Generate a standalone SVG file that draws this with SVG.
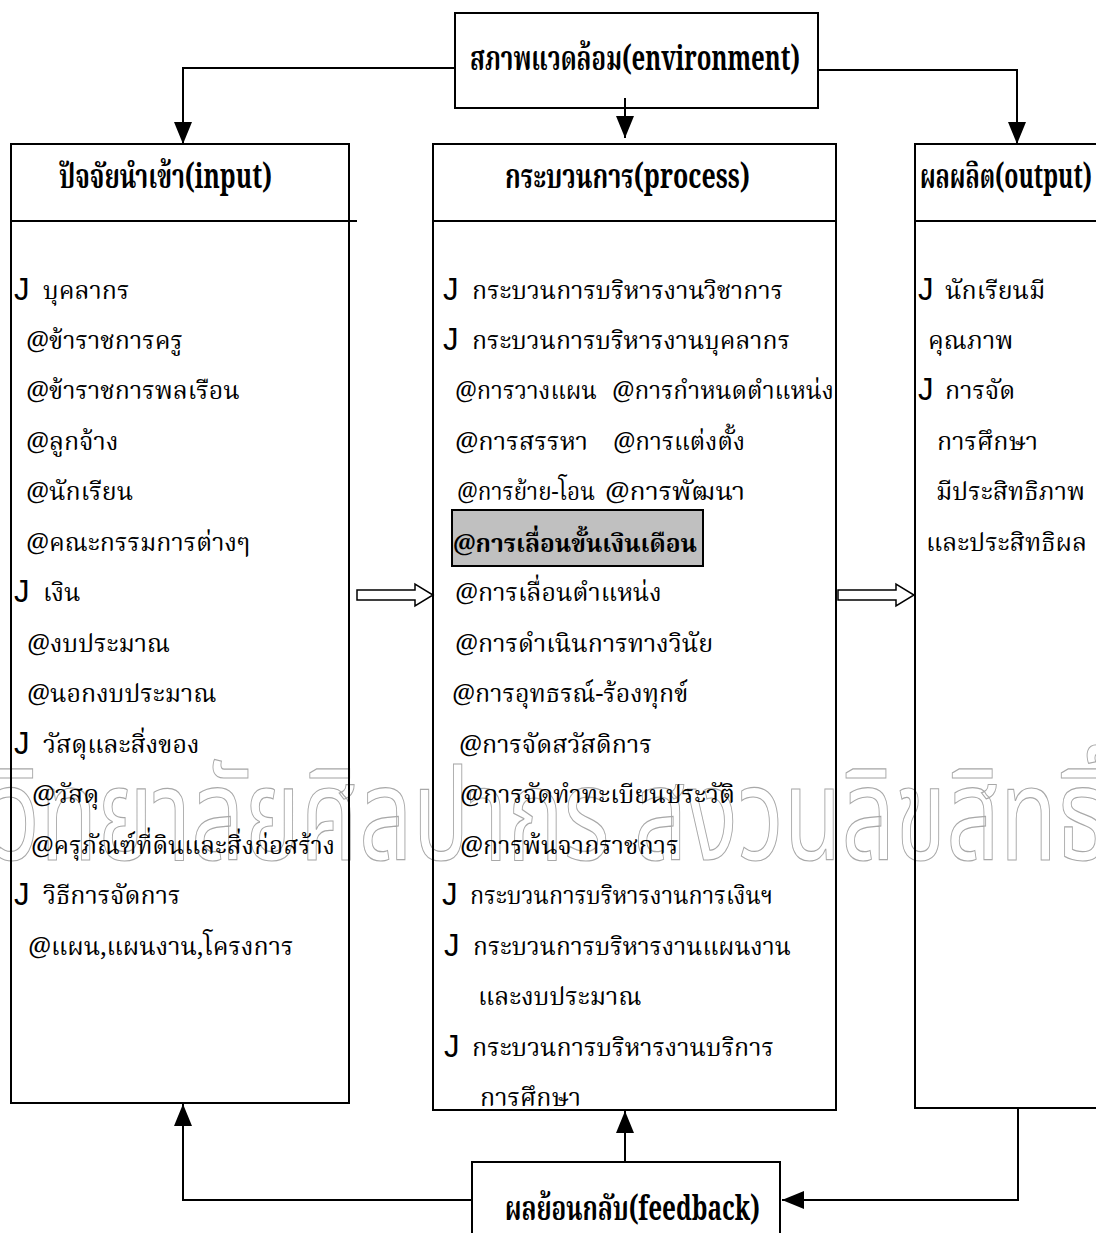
<svg xmlns="http://www.w3.org/2000/svg" width="1096" height="1233" viewBox="0 0 1096 1233">
<style>
.box{fill:none;stroke:#000;stroke-width:2}
.ln{fill:none;stroke:#000;stroke-width:2}
.t{font-family:"Noto Serif Thai","Norasi","Tlwg Typo","Liberation Serif",serif;font-size:25px;fill:#000}
.h{font-family:"Noto Serif Thai","Norasi","Liberation Serif",serif;font-size:34px;font-weight:bold;fill:#000}
.b{font-family:"Liberation Sans",sans-serif;font-size:31px;fill:#000}
.wm{font-family:"Noto Sans Thai","Noto Serif Thai","Liberation Sans",sans-serif;font-size:128px;fill:none;stroke:#a8a8a8;stroke-width:1.2}
.blk{fill:#fff;stroke:#000;stroke-width:1.5}
</style>
<defs>
<marker id="ah" viewBox="0 0 22 18" refX="22" refY="9" markerWidth="22" markerHeight="18" markerUnits="userSpaceOnUse" orient="auto">
<path d="M0,0 L22,9 L0,18 Z" fill="#000"/>
</marker>
</defs>
<rect x="0" y="0" width="1096" height="1233" fill="#fff"/>

<g id="watermark">
<text class="wm" x="-6" y="860" textLength="1114" lengthAdjust="spacingAndGlyphs">วิทยาลัยศิลปากร สงวนลิขสิทธิ์</text>
</g>

<g id="connectors">
<path class="ln" d="M455,68 H183 V144" marker-end="url(#ah)"/>
<path class="ln" d="M818,70 H1017 V144" marker-end="url(#ah)"/>
<path class="ln" d="M625,98 V138" marker-end="url(#ah)"/>
<path class="ln" d="M1018,1108 V1200 H782" marker-end="url(#ah)"/>
<path class="ln" d="M472,1200 H183 V1104" marker-end="url(#ah)"/>
<path class="ln" d="M625,1162 V1111" marker-end="url(#ah)"/>
<path class="blk" d="M357,590 H415 V584 L433,595 L415,606 V600 H357 Z"/>
<path class="blk" d="M838,590 H896 V584 L914,595 L896,606 V600 H838 Z"/>
</g>

<g id="environment">
<rect class="box" x="455" y="13" width="363" height="95"/>
<text class="h" x="470" y="70" textLength="330" lengthAdjust="spacingAndGlyphs">สภาพแวดล้อม(environment)</text>
</g>

<g id="input">
<rect class="box" x="11" y="144" width="338" height="959"/>
<line class="ln" x1="11" y1="221" x2="357" y2="221"/>
<text class="h" x="59" y="188" textLength="213" lengthAdjust="spacingAndGlyphs">ปัจจัยนำเข้า(input)</text>
<text class="b" x="14" y="300">J</text><text class="t" x="43" y="299">บุคลากร</text>
<text class="t" x="26" y="349">@ข้าราชการครู</text>
<text class="t" x="26" y="399">@ข้าราชการพลเรือน</text>
<text class="t" x="26" y="450">@ลูกจ้าง</text>
<text class="t" x="26" y="500">@นักเรียน</text>
<text class="t" x="26" y="551">@คณะกรรมการต่างๆ</text>
<text class="b" x="14" y="602">J</text><text class="t" x="43" y="601">เงิน</text>
<text class="t" x="27" y="652">@งบประมาณ</text>
<text class="t" x="27" y="702">@นอกงบประมาณ</text>
<text class="b" x="14" y="754">J</text><text class="t" x="43" y="753">วัสดุและสิ่งของ</text>
<text class="t" x="32" y="803">@วัสดุ</text>
<text class="t" x="31" y="854" textLength="304" lengthAdjust="spacingAndGlyphs">@ครุภัณฑ์ที่ดินและสิ่งก่อสร้าง</text>
<text class="b" x="14" y="905">J</text><text class="t" x="43" y="904">วิธีการจัดการ</text>
<text class="t" x="28" y="955">@แผน,แผนงาน,โครงการ</text>
</g>

<g id="process">
<rect class="box" x="433" y="144" width="403" height="966"/>
<line class="ln" x1="433" y1="221" x2="836" y2="221"/>
<text class="h" x="505" y="188" textLength="245" lengthAdjust="spacingAndGlyphs">กระบวนการ(process)</text>
<text class="b" x="443" y="300">J</text><text class="t" x="472" y="299" textLength="311" lengthAdjust="spacingAndGlyphs">กระบวนการบริหารงานวิชาการ</text>
<text class="b" x="443" y="350">J</text><text class="t" x="472" y="349" textLength="318" lengthAdjust="spacingAndGlyphs">กระบวนการบริหารงานบุคลากร</text>
<text class="t" x="455" y="399" textLength="142" lengthAdjust="spacingAndGlyphs">@การวางแผน</text><text class="t" x="612" y="399" textLength="222" lengthAdjust="spacingAndGlyphs">@การกำหนดตำแหน่ง</text>
<text class="t" x="455" y="450" textLength="133" lengthAdjust="spacingAndGlyphs">@การสรรหา</text><text class="t" x="613" y="450" textLength="132" lengthAdjust="spacingAndGlyphs">@การแต่งตั้ง</text>
<text class="t" x="457" y="500" textLength="138" lengthAdjust="spacingAndGlyphs">@การย้าย-โอน</text><text class="t" x="605" y="500" textLength="140" lengthAdjust="spacingAndGlyphs">@การพัฒนา</text>
<rect x="452" y="510" width="251" height="56" fill="#c0c0c0" stroke="#000" stroke-width="2"/>
<text class="t" x="453" y="552" font-weight="bold" textLength="244" lengthAdjust="spacingAndGlyphs">@การเลื่อนขั้นเงินเดือน</text>
<text class="t" x="455" y="601">@การเลื่อนตำแหน่ง</text>
<text class="t" x="455" y="652">@การดำเนินการทางวินัย</text>
<text class="t" x="452" y="702">@การอุทธรณ์-ร้องทุกข์</text>
<text class="t" x="459" y="753">@การจัดสวัสดิการ</text>
<text class="t" x="460" y="803">@การจัดทำทะเบียนประวัติ</text>
<text class="t" x="460" y="854">@การพ้นจากราชการ</text>
<text class="b" x="442" y="905">J</text><text class="t" x="470" y="904" textLength="303" lengthAdjust="spacingAndGlyphs">กระบวนการบริหารงานการเงินฯ</text>
<text class="b" x="444" y="956">J</text><text class="t" x="473" y="955" textLength="318" lengthAdjust="spacingAndGlyphs">กระบวนการบริหารงานแผนงาน</text>
<text class="t" x="478" y="1005">และงบประมาณ</text>
<text class="b" x="444" y="1057">J</text><text class="t" x="472" y="1056" textLength="302" lengthAdjust="spacingAndGlyphs">กระบวนการบริหารงานบริการ</text>
<text class="t" x="480" y="1106">การศึกษา</text>
</g>

<g id="output">
<rect class="box" x="915" y="144" width="190" height="964"/>
<line class="ln" x1="915" y1="221" x2="1096" y2="221"/>
<text class="h" x="920" y="188" textLength="172" lengthAdjust="spacingAndGlyphs">ผลผลิต(output)</text>
<text class="b" x="918" y="300">J</text><text class="t" x="945" y="299">นักเรียนมี</text>
<text class="t" x="928" y="349">คุณภาพ</text>
<text class="b" x="918" y="400">J</text><text class="t" x="945" y="399">การจัด</text>
<text class="t" x="937" y="450">การศึกษา</text>
<text class="t" x="936" y="500">มีประสิทธิภาพ</text>
<text class="t" x="926" y="551">และประสิทธิผล</text>
</g>

<g id="feedback">
<rect x="472" y="1162" width="308" height="80" fill="#fff" stroke="#000" stroke-width="2"/>
<text class="h" x="505" y="1220" textLength="255" lengthAdjust="spacingAndGlyphs">ผลย้อนกลับ(feedback)</text>
</g>
</svg>
